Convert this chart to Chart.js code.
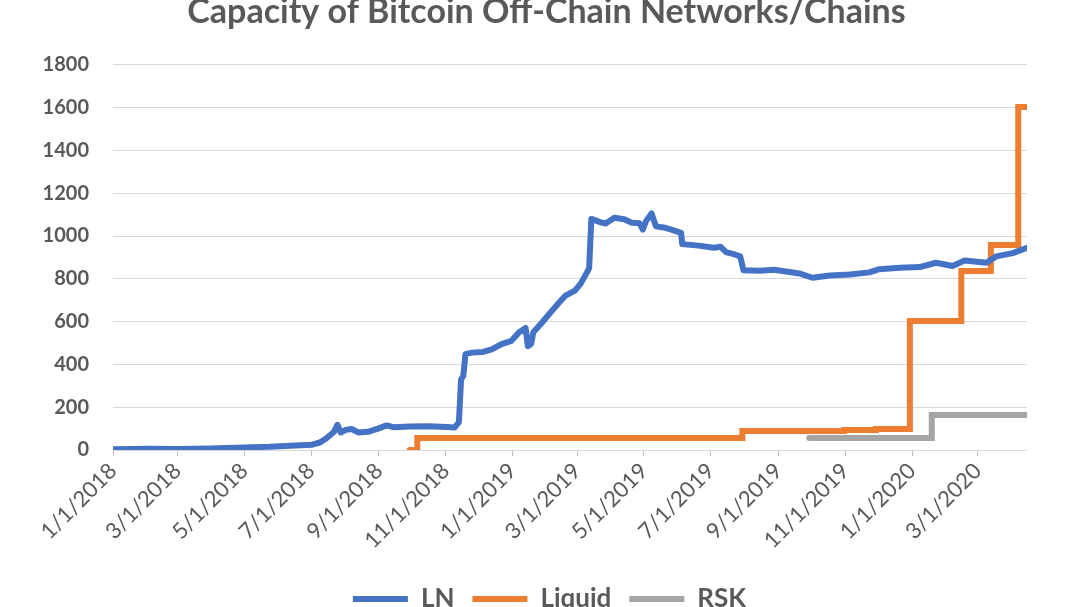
<!DOCTYPE html>
<html>
<head>
<meta charset="utf-8">
<script src="https://cdn.jsdelivr.net/npm/chart.js@4"></script>
<style>
  html, body { margin: 0; padding: 0; background: #fff; overflow: hidden; }
  #wrap { position: absolute; left: 0; top: -10px; width: 1080px; height: 632px; }
</style>
</head>
<body>
<div id="wrap"><canvas id="myChart"></canvas></div>
<script>
// LN capacity (BTC)
const lnDates = ['2018-01-01','2018-02-04','2018-03-01','2018-03-31','2018-05-01','2018-05-24','2018-06-12','2018-07-02',
  '2018-07-09','2018-07-15','2018-07-22','2018-07-25','2018-07-28','2018-08-02','2018-08-07','2018-08-13','2018-08-22',
  '2018-08-31','2018-09-08','2018-09-15','2018-09-29','2018-10-17','2018-11-02','2018-11-09','2018-11-13','2018-11-15',
  '2018-11-17','2018-11-19','2018-11-25','2018-12-05','2018-12-13','2018-12-22','2018-12-31','2019-01-07','2019-01-13',
  '2019-01-15','2019-01-18','2019-01-20','2019-01-27','2019-02-01','2019-02-06','2019-02-11','2019-02-18','2019-02-27',
  '2019-03-04','2019-03-10','2019-03-12','2019-03-14','2019-03-22','2019-03-27','2019-04-04','2019-04-13','2019-04-20',
  '2019-04-27','2019-04-30','2019-05-03','2019-05-08','2019-05-12','2019-05-19','2019-05-26','2019-06-04','2019-06-05',
  '2019-06-20','2019-07-04','2019-07-10','2019-07-15','2019-07-22','2019-07-28','2019-07-31','2019-08-15','2019-08-28',
  '2019-09-11','2019-09-20','2019-10-02','2019-10-18','2019-11-05','2019-11-23','2019-12-02','2019-12-21','2020-01-08',
  '2020-01-23','2020-02-07','2020-02-18','2020-03-09','2020-03-18','2020-04-02','2020-04-15'];
const lnValues = [4, 6, 5, 7, 12, 15, 20, 25,
  35, 55, 85, 118, 82, 95, 98, 82, 85,
  100, 115, 106, 110, 111, 108, 105, 130, 330,
  345, 448, 455, 458, 470, 495, 510, 550, 570,
  485, 495, 550, 590, 620, 650, 680, 720, 745,
  775, 830, 850, 1080, 1065, 1058, 1085, 1078, 1062,
  1060, 1030, 1070, 1105, 1045, 1040, 1030, 1015, 962,
  955, 945, 950, 925, 915, 905, 840, 838, 842,
  832, 825, 805, 815, 820, 830, 845, 852, 855,
  875, 860, 885, 875, 905, 920, 945];

// Liquid and RSK change in steps
const liquidDates = ['2018-09-29','2018-10-06','2019-07-30','2019-10-31','2019-11-29','2019-12-30','2020-02-15','2020-03-13','2020-04-07','2020-04-15'];
const liquidValues = [0, 56, 89, 93, 98, 603, 837, 958, 1603, 1603];

const rskDates = ['2019-09-29','2020-01-19','2020-04-15'];
const rskValues = [56, 164, 164];

const tickDates = ['2018-01-01','2018-03-01','2018-05-01','2018-07-01','2018-09-01','2018-11-01','2019-01-01',
  '2019-03-01','2019-05-01','2019-07-01','2019-09-01','2019-11-01','2020-01-01','2020-03-01'];

const DAY = 86400000;
const start = Date.UTC(2018, 0, 1);
function toDay(s) {
  const p = s.split('-');
  return (Date.UTC(+p[0], +p[1] - 1, +p[2]) - start) / DAY;
}
function pts(dates, values) {
  return dates.map((d, i) => ({ x: toDay(d), y: values[i] }));
}
const tickDays = tickDates.map(toDay);
const tickLabel = {};
tickDates.forEach((d, i) => {
  const p = d.split('-');
  tickLabel[tickDays[i]] = (+p[1]) + '/' + (+p[2]) + '/' + p[0];
});

const grey = '#595959';
const ctx = document.getElementById('myChart').getContext('2d');

// the original centres title and legend a bit right of the plot
const boxShift = {
  id: 'boxShift',
  afterLayout(chart) {
    const t = chart.titleBlock;
    if (t) { t.left += 33; t.right += 33; }
    const lg = chart.legend;
    if (lg) { lg.left += 36; lg.right += 36; }
  }
};

new Chart(ctx, {
  type: 'line',
  data: {
    datasets: [{
      label: 'LN',
      data: pts(lnDates, lnValues),
      borderColor: '#4472C4',
      backgroundColor: '#4472C4',
      borderWidth: 6,
      borderCapStyle: 'round',
      borderJoinStyle: 'round',
      pointRadius: 0
    }, {
      label: 'Liquid',
      data: pts(liquidDates, liquidValues),
      borderColor: '#ED7D31',
      backgroundColor: '#ED7D31',
      borderWidth: 6,
      borderCapStyle: 'round',
      stepped: true,
      pointRadius: 0
    }, {
      label: 'RSK',
      data: pts(rskDates, rskValues),
      borderColor: '#A5A5A5',
      backgroundColor: '#A5A5A5',
      borderWidth: 6,
      borderCapStyle: 'round',
      stepped: true,
      pointRadius: 0
    }]
  },
  options: {
    responsive: true,
    maintainAspectRatio: false,
    animation: false,
    layout: { padding: { left: 0, right: 53, top: 0, bottom: 0 } },
    plugins: {
      title: {
        display: true,
        text: 'Capacity of Bitcoin Off-Chain Networks/Chains',
        color: grey,
        font: { family: 'Lato', size: 34, weight: 'bold' },
        padding: { top: 2, bottom: 32 }
      },
      legend: {
        position: 'bottom',
        labels: {
          color: grey,
          font: { family: 'Lato', size: 26, weight: 'bold' },
          usePointStyle: true,
          pointStyle: 'line',
          pointStyleWidth: 55,
          padding: 18
        }
      },
      tooltip: { enabled: false }
    },
    scales: {
      x: {
        type: 'linear',
        min: 0,
        max: toDay('2020-04-15'),
        afterBuildTicks: axis => { axis.ticks = tickDays.map(v => ({ value: v })); },
        afterFit: axis => { axis.height = 118; },
        ticks: {
          autoSkip: false,
          maxRotation: 45,
          minRotation: 45,
          color: grey,
          padding: 2,
          font: { family: 'Lato', size: 22 },
          callback: v => tickLabel[v]
        },
        grid: { drawOnChartArea: false, color: '#bfbfbf', tickLength: 6 },
        border: { display: false }
      },
      y: {
        min: 0,
        max: 1800,
        ticks: {
          stepSize: 200,
          color: grey,
          padding: 24,
          font: { family: 'Lato', size: 20, weight: 'bold' },
          callback: v => String(v)
        },
        afterFit: axis => { axis.width = 113; },
        grid: { color: '#d9d9d9', drawTicks: false },
        border: { display: false }
      }
    }
  },
  plugins: [boxShift]
});
</script>
</body>
</html>
